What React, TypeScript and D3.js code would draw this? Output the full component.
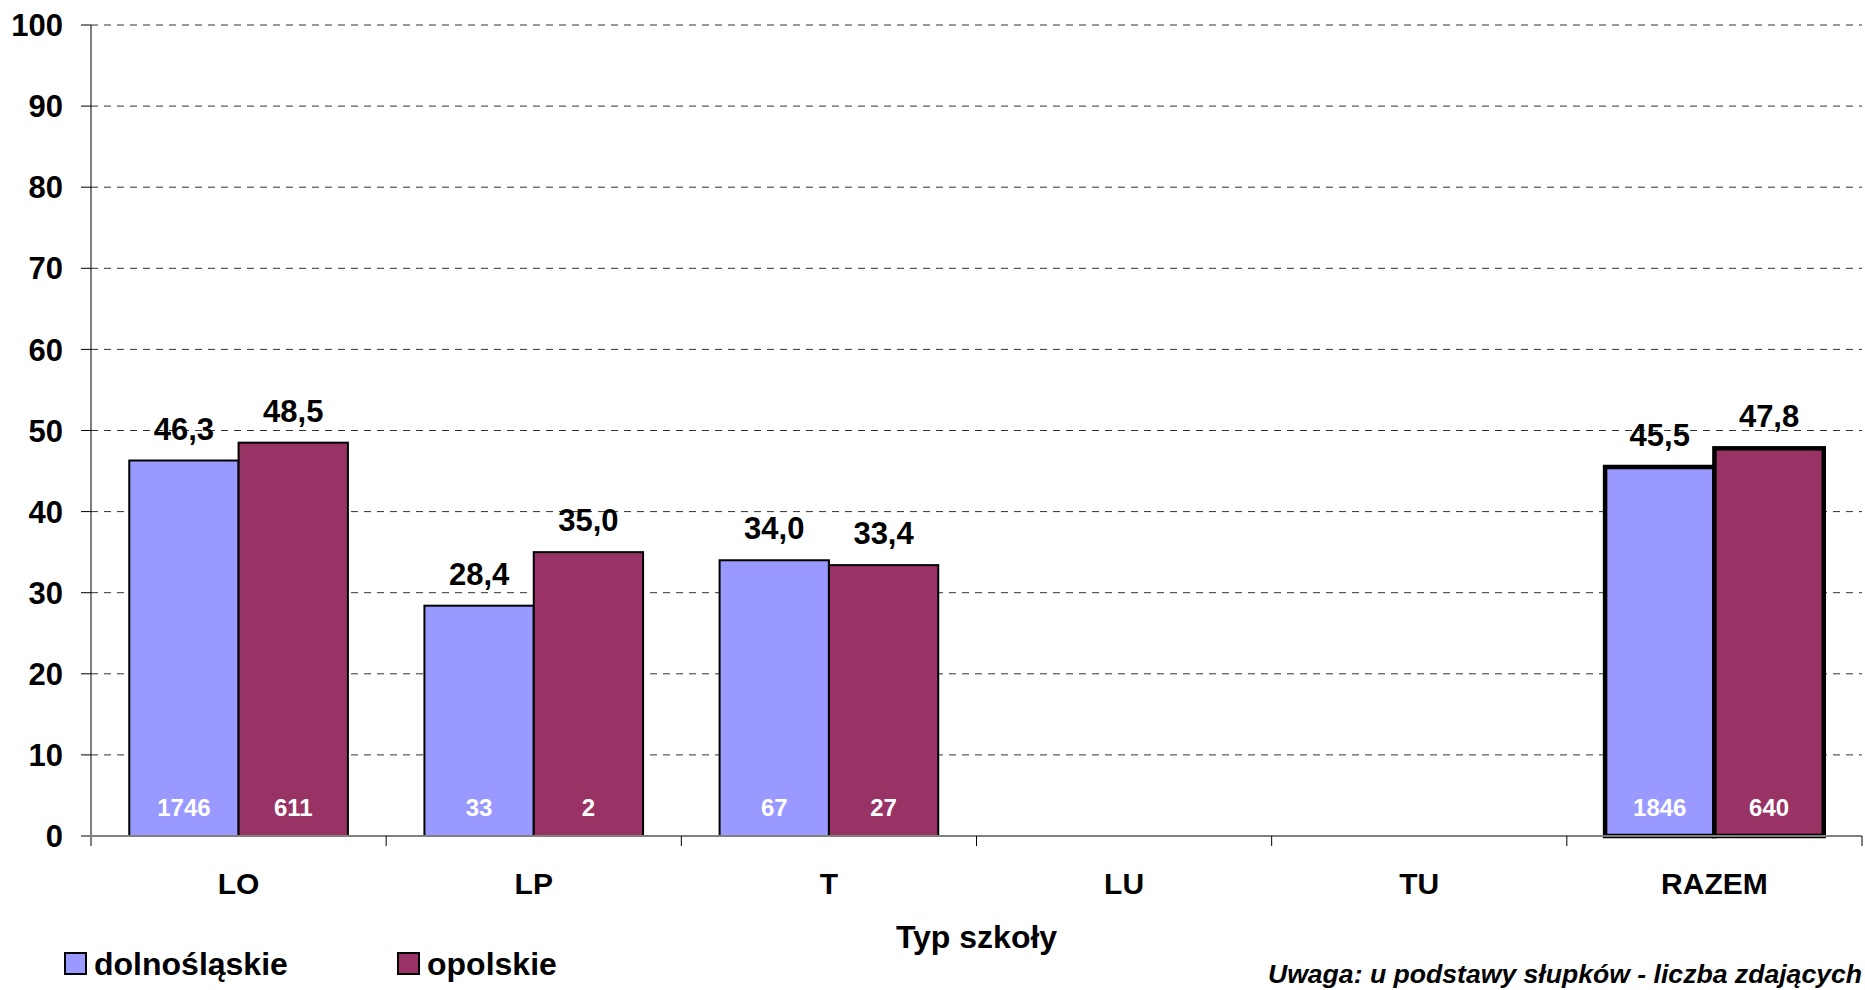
import React from "react";
import * as d3 from "d3";

const categories = ["LO", "LP", "T", "LU", "TU", "RAZEM"];
const seriesNames = ["dolnośląskie", "opolskie"];
const dolnoslaskie = [46.3, 28.4, 34.0, null, null, 45.5];
const opolskie = [48.5, 35.0, 33.4, null, null, 47.8];
const countsDolnoslaskie = [1746, 33, 67, null, null, 1846];
const countsOpolskie = [611, 2, 27, null, null, 640];
const yTicks = [0, 10, 20, 30, 40, 50, 60, 70, 80, 90, 100];

const colors = ["#9999FF", "#993366"];
const W = 1865;
const H = 990;
const margin = { left: 91, right: 3, top: 25, bottom: 154 };
const font = "'Liberation Sans', Arial, sans-serif";

const fmt = (v: number) => v.toFixed(1).replace(".", ",");

export default function App() {
  const x0 = d3
    .scaleBand()
    .domain(categories)
    .range([margin.left, W - margin.right])
    .padding(0);
  const x1 = d3
    .scaleBand()
    .domain(seriesNames)
    .range([0, x0.bandwidth()])
    .paddingInner(0)
    .paddingOuter(0.35);
  const y = d3
    .scaleLinear()
    .domain([0, 100])
    .range([H - margin.bottom, margin.top]);

  const values = [dolnoslaskie, opolskie];
  const counts = [countsDolnoslaskie, countsOpolskie];
  const y0 = y(0);
  const plotRight = W - margin.right;

  const bars: any[] = [];
  categories.forEach((c, i) => {
    seriesNames.forEach((s, j) => {
      const v = values[j][i];
      if (v == null) return;
      bars.push({ c, s, j, v, n: counts[j][i], thick: c === "RAZEM" });
    });
  });

  return (
    <svg
      width={W}
      height={H}
      style={{ position: "absolute", left: 0, top: 0, background: "#fff" }}
      fontFamily={font}
      fontWeight="bold"
    >
      {/* grid */}
      {yTicks
        .filter((t) => t > 0)
        .map((t) => (
          <line
            key={"g" + t}
            x1={margin.left}
            x2={plotRight}
            y1={y(t)}
            y2={y(t)}
            stroke="#333"
            strokeWidth={1}
            strokeDasharray="7,6"
          />
        ))}
      {/* y ticks + labels */}
      {yTicks.map((t) => (
        <g key={"t" + t}>
          <line x1={margin.left - 10} x2={margin.left} y1={y(t)} y2={y(t)} stroke="#000" />
          <text
            x={margin.left - 28}
            y={y(t)}
            dy="0.36em"
            textAnchor="end"
            fontSize={31}
            fill="#000"
          >
            {t}
          </text>
        </g>
      ))}
      {/* y axis */}
      <line x1={margin.left} x2={margin.left} y1={y(100)} y2={y0 + 10} stroke="#000" />
      {/* bars */}
      {bars.map((b) => {
        const bx = (x0(b.c) as number) + (x1(b.s) as number);
        const bw = x1.bandwidth();
        return (
          <rect
            key={b.c + b.s}
            x={bx}
            y={y(b.v)}
            width={bw}
            height={y0 - y(b.v)}
            fill={colors[b.j]}
            stroke="#000"
            strokeWidth={b.thick ? 4.5 : 2}
          />
        );
      })}
      {/* x axis */}
      <line x1={margin.left - 10} x2={plotRight} y1={y0} y2={y0} stroke="#808080" strokeWidth={2} />
      {categories.map((c) => (
        <line
          key={"xt" + c}
          x1={(x0(c) as number) + x0.bandwidth()}
          x2={(x0(c) as number) + x0.bandwidth()}
          y1={y0}
          y2={y0 + 10}
          stroke="#000"
        />
      ))}
      {/* labels */}
      {bars.map((b) => {
        const cx = (x0(b.c) as number) + (x1(b.s) as number) + x1.bandwidth() / 2;
        return (
          <g key={"l" + b.c + b.s}>
            <text x={cx} y={y(b.v) - 21} textAnchor="middle" fontSize={31} fill="#000">
              {fmt(b.v)}
            </text>
            <text x={cx} y={y0 - 20} textAnchor="middle" fontSize={24} fill="#fff">
              {b.n}
            </text>
          </g>
        );
      })}
      {categories.map((c) => (
        <text
          key={"cl" + c}
          x={(x0(c) as number) + x0.bandwidth() / 2}
          y={894}
          textAnchor="middle"
          fontSize={30}
          fill="#000"
        >
          {c}
        </text>
      ))}
      <text x={(margin.left + plotRight) / 2} y={948} textAnchor="middle" fontSize={32} fill="#000">
        Typ szkoły
      </text>
      {/* legend */}
      {seriesNames.map((s, j) => {
        const lx = [65, 398][j];
        return (
          <g key={"lg" + s}>
            <rect x={lx} y={953} width={21} height={21} fill={colors[j]} stroke="#000" strokeWidth={2} />
            <text x={lx + 29} y={975} fontSize={32} fill="#000">
              {s}
            </text>
          </g>
        );
      })}
      <text x={1862} y={983} textAnchor="end" fontSize={26.6} fontStyle="italic" fill="#000">
        Uwaga: u podstawy słupków - liczba zdających
      </text>
    </svg>
  );
}
